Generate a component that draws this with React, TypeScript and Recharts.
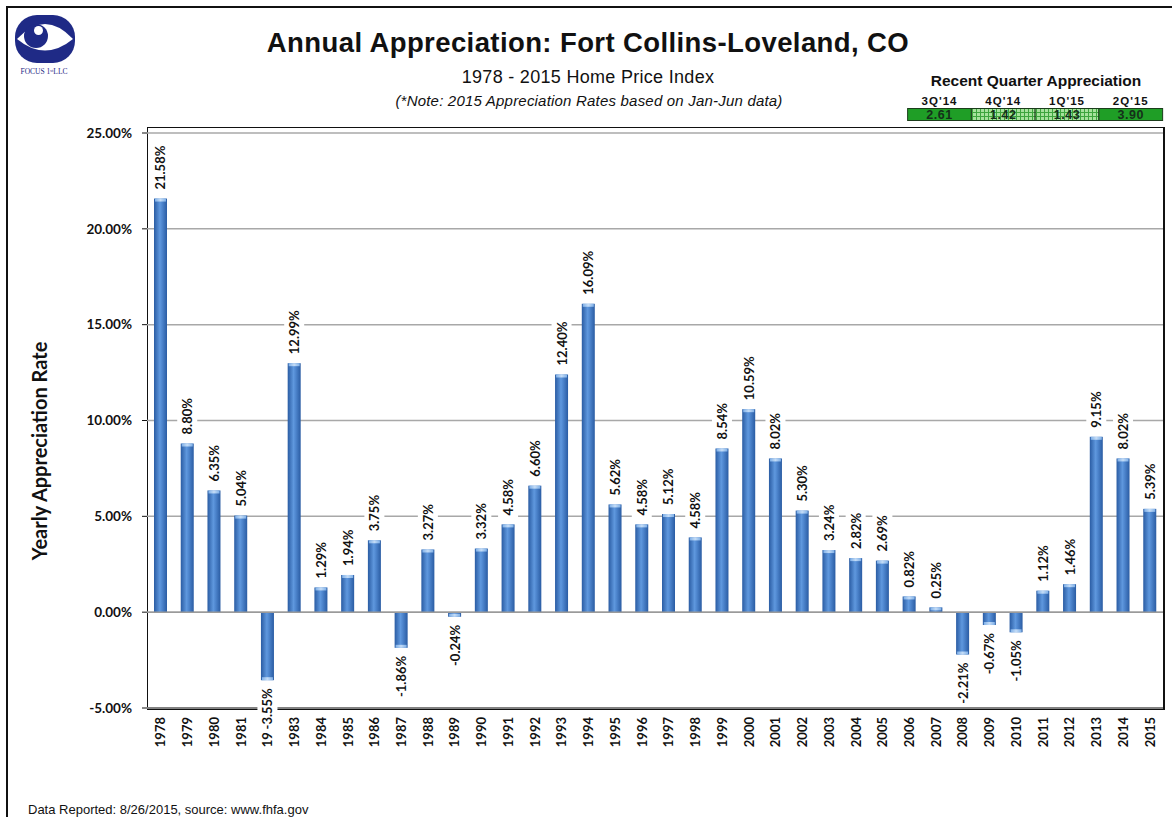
import { Bar, BarChart, CartesianGrid, LabelList, ReferenceLine, XAxis, YAxis } from 'recharts';

const years = [
  '1978', '1979', '1980', '1981', '1982', '1983', '1984', '1985', '1986', '1987',
  '1988', '1989', '1990', '1991', '1992', '1993', '1994', '1995', '1996', '1997',
  '1998', '1999', '2000', '2001', '2002', '2003', '2004', '2005', '2006', '2007',
  '2008', '2009', '2010', '2011', '2012', '2013', '2014', '2015',
];

// bar heights as drawn (1998 bar is drawn lower than its printed label)
const rates = [
  21.58, 8.8, 6.35, 5.04, -3.55, 12.99, 1.29, 1.94, 3.75, -1.86,
  3.27, -0.24, 3.32, 4.58, 6.6, 12.4, 16.09, 5.62, 4.58, 5.12,
  3.9, 8.54, 10.59, 8.02, 5.3, 3.24, 2.82, 2.69, 0.82, 0.25,
  -2.21, -0.67, -1.05, 1.12, 1.46, 9.15, 8.02, 5.39,
];

const rateLabels = [
  '21.58%', '8.80%', '6.35%', '5.04%', '-3.55%', '12.99%', '1.29%', '1.94%', '3.75%', '-1.86%',
  '3.27%', '-0.24%', '3.32%', '4.58%', '6.60%', '12.40%', '16.09%', '5.62%', '4.58%', '5.12%',
  '4.58%', '8.54%', '10.59%', '8.02%', '5.30%', '3.24%', '2.82%', '2.69%', '0.82%', '0.25%',
  '-2.21%', '-0.67%', '-1.05%', '1.12%', '1.46%', '9.15%', '8.02%', '5.39%',
];

const yTicks = [-5, 0, 5, 10, 15, 20, 25];

const quarters = ["3Q'14", "4Q'14", "1Q'15", "2Q'15"];
const quarterValues = ['2.61', '1.42', '1.43', '3.90'];
const quarterSolid = [true, false, false, true];

const data = years.map((year, i) => ({ year, rate: rates[i], label: rateLabels[i] }));

const LABEL_FONT = 'Lato, "Open Sans", sans-serif';
const TITLE_FONT = '"Liberation Sans", Arial, sans-serif';

// rough text length for Lato bold 13px
function textLen(s: string) {
  let w = 0;
  for (const c of s) {
    if (c === '.') w += 3.4;
    else if (c === '%') w += 10.4;
    else if (c === '-') w += 4.8;
    else w += 7.5;
  }
  return w;
}

function BarValueLabel(props: any) {
  const vb = props.viewBox ?? props;
  const x = Number(vb.x);
  const y = Number(vb.y);
  const width = Number(vb.width);
  const height = Number(vb.height);
  const text = String(props.value ?? '');
  const cx = x + width / 2;
  const top = Math.min(y, y + height);
  const bottom = Math.max(y, y + height);
  const len = textLen(text);
  const neg = text.startsWith('-');
  const style = { fontFamily: LABEL_FONT, fontWeight: 700, fontSize: 13, fill: '#111' };
  if (!neg) {
    const start = top - 9;
    return (
      <g>
        <rect x={cx - 10} y={start - len - 3} width={20} height={len + 6} fill="#fff" />
        <text x={cx} y={start} transform={`rotate(-90 ${cx} ${start})`} textAnchor="start" dominantBaseline="central" style={style}>
          {text}
        </text>
      </g>
    );
  }
  const end = bottom + 8;
  return (
    <g>
      <rect x={cx - 10} y={end - 3} width={20} height={len + 6} fill="#fff" />
      <text x={cx} y={end} transform={`rotate(-90 ${cx} ${end})`} textAnchor="end" dominantBaseline="central" style={style}>
        {text}
      </text>
    </g>
  );
}

function GlossyBar(props: any) {
  const { x, y, width, height, payload } = props;
  const top = Math.min(y, y + height);
  const h = Math.abs(height);
  const neg = payload && payload.rate < 0;
  const capY = neg ? top + h - Math.min(3, h) : top;
  return (
    <g>
      <rect x={x} y={top} width={width} height={h} fill="url(#barGrad)" />
      <rect x={x + 1} y={capY} width={width - 2} height={Math.min(3, h)} fill="url(#capGrad)" />
    </g>
  );
}

function YearTick(props: any) {
  const { x, y, payload } = props;
  const ty = y + 1;
  return (
    <text
      x={x}
      y={ty}
      transform={`rotate(-90 ${x} ${ty})`}
      textAnchor="end"
      dominantBaseline="central"
      style={{ fontFamily: LABEL_FONT, fontWeight: 700, fontSize: 13, fill: '#111' }}
    >
      {payload.value}
    </text>
  );
}

export default function App() {
  return (
    <div style={{ position: 'absolute', left: 0, top: 0, width: 1172, height: 817, background: '#fff', overflow: 'hidden' }}>
      {/* outer frame and plot box, under the chart so label backgrounds cover them */}
      <div style={{ position: 'absolute', left: 6, top: 6, width: 1180, height: 830, borderLeft: '2px solid #111', borderTop: '2px solid #111' }} />
      <div
        style={{
          position: 'absolute',
          left: 147,
          top: 127,
          width: 1015,
          height: 579,
          borderLeft: '1.5px solid #111',
          borderTop: '1.5px solid #111',
          borderRight: '2px solid #111',
          borderBottom: '3px solid #111',
        }}
      />

      <div style={{ position: 'absolute', left: 0, top: 0 }}>
        <BarChart width={1172} height={817} data={data} margin={{ top: 133, right: 9, bottom: 49, left: 0 }} barCategoryGap={0}>
          <defs>
            <linearGradient id="barGrad" x1="0" y1="0" x2="1" y2="0">
              <stop offset="0%" stopColor="#2a5ca3" />
              <stop offset="45%" stopColor="#5f98de" />
              <stop offset="60%" stopColor="#5088d0" />
              <stop offset="100%" stopColor="#2a5ca3" />
            </linearGradient>
            <linearGradient id="capGrad" x1="0" y1="0" x2="1" y2="0">
              <stop offset="0%" stopColor="#7fb0e8" />
              <stop offset="50%" stopColor="#c4dcf6" />
              <stop offset="100%" stopColor="#7fb0e8" />
            </linearGradient>
          </defs>
          <CartesianGrid vertical={false} stroke="#a8a8a8" strokeWidth={1.5} />
          <XAxis dataKey="year" interval={0} height={60} axisLine={false} tickLine={false} tick={YearTick} />
          <YAxis
            width={147}
            domain={[-5, 25]}
            ticks={yTicks}
            allowDataOverflow
            axisLine={false}
            tickSize={5}
            tickMargin={10}
            tickLine={{ stroke: '#111' }}
            tickFormatter={(v: number) => `${v.toFixed(2)}%`}
            tick={{ fontFamily: LABEL_FONT, fontWeight: 700, fontSize: 13.5, fill: '#111' }}
          />
          <ReferenceLine y={0} stroke="#9a9a9a" strokeWidth={1.5} />
          <Bar dataKey="rate" barSize={13} fill="#3d74c0" shape={GlossyBar} isAnimationActive={false}>
            <LabelList dataKey="label" content={BarValueLabel} />
          </Bar>
        </BarChart>
      </div>

      {/* titles */}
      <div style={{ position: 'absolute', left: 0, width: 1176, top: 27, textAlign: 'center', fontFamily: TITLE_FONT, fontWeight: 700, fontSize: 27.5, letterSpacing: 0.4, color: '#111' }}>
        Annual Appreciation: Fort Collins-Loveland, CO
      </div>
      <div style={{ position: 'absolute', left: 0, width: 1176, top: 67, textAlign: 'center', fontFamily: TITLE_FONT, fontSize: 18, letterSpacing: 0.3, color: '#111' }}>
        1978 - 2015 Home Price Index
      </div>
      <div style={{ position: 'absolute', left: 0, width: 1178, top: 92, textAlign: 'center', fontFamily: TITLE_FONT, fontStyle: 'italic', fontSize: 15, letterSpacing: 0.2, color: '#111' }}>
        (*Note: 2015 Appreciation Rates based on Jan-Jun data)
      </div>
      <div style={{ position: 'absolute', left: 28, top: 802, fontFamily: TITLE_FONT, fontSize: 13, color: '#111' }}>
        Data Reported: 8/26/2015, source: www.fhfa.gov
      </div>
      <div
        style={{
          position: 'absolute',
          left: 39,
          top: 451,
          transform: 'translate(-50%, -50%) rotate(-90deg)',
          whiteSpace: 'nowrap',
          fontFamily: LABEL_FONT,
          fontWeight: 700,
          fontSize: 20,
          color: '#111',
        }}
      >
        Yearly Appreciation Rate
      </div>

      {/* logo and recent quarter table */}
      <svg width={1172} height={140} style={{ position: 'absolute', left: 0, top: 0 }}>
        <defs>
          <pattern id="check" width={4} height={4} patternUnits="userSpaceOnUse">
            <rect width={4} height={4} fill="#a6e29c" />
            <path d="M0 0.5 H4 M0.5 0 V4" stroke="#3da53d" strokeWidth={1} />
          </pattern>
        </defs>
        <rect x={15} y={15} width={60} height={48} rx={22} fill="#1f2a86" />
        <path d="M17 39 Q45 9 73 39 Q45 62 17 39 Z" fill="#fff" />
        <circle cx={36} cy={36} r={12} fill="#1f2a86" />
        <circle cx={38.5} cy={30.5} r={4.5} fill="#fff" />
        <text x={44} y={74} textAnchor="middle" style={{ fontFamily: '"Liberation Serif", serif', fontSize: 7.5, fill: '#1f2a86' }}>
          FOCUS 1ˢᵗLLC
        </text>

        <text x={1036} y={86} textAnchor="middle" style={{ fontFamily: TITLE_FONT, fontWeight: 700, fontSize: 15.5, fill: '#111' }}>
          Recent Quarter Appreciation
        </text>
        {quarters.map((q, i) => {
          const cx = 939.5 + i * 63.75;
          return (
            <g key={q}>
              <text x={cx} y={105} textAnchor="middle" style={{ fontFamily: TITLE_FONT, fontWeight: 700, fontSize: 11.5, letterSpacing: 1, fill: '#111' }}>
                {q}
              </text>
              <rect
                x={cx - 31.875}
                y={108.5}
                width={63.75}
                height={12}
                fill={quarterSolid[i] ? '#1f9e26' : 'url(#check)'}
                stroke="#1b3d1b"
                strokeWidth={1}
              />
              <text x={cx} y={119} textAnchor="middle" style={{ fontFamily: TITLE_FONT, fontWeight: 700, fontSize: 12.5, letterSpacing: 0.6, fill: '#15301a' }}>
                {quarterValues[i]}
              </text>
            </g>
          );
        })}
      </svg>
    </div>
  );
}
